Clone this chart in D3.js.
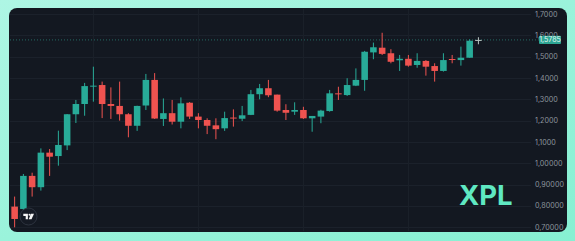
<!DOCTYPE html>
<html>
<head>
<meta charset="utf-8">
<script src="https://cdn.jsdelivr.net/npm/d3@7"></script>
<style>
  html, body { margin: 0; padding: 0; background: #9ef3dc; }
  svg { display: block; }
</style>
</head>
<body>
<svg width="575" height="241"></svg>
<script>
// candle data (one entry per candle, left to right)
var opens  = [0.797, 0.786, 0.941, 0.888, 1.050, 1.034, 1.084, 1.230, 1.278, 1.360,
              1.367, 1.278, 1.269, 1.230, 1.176, 1.271, 1.391, 1.208, 1.235, 1.195,
              1.284, 1.219, 1.203, 1.178, 1.164, 1.2145, 1.209, 1.227, 1.324, 1.352,
              1.322, 1.250, 1.242, 1.250, 1.211, 1.219, 1.245, 1.328, 1.320, 1.364,
              1.391, 1.520, 1.542, 1.516, 1.483, 1.490, 1.461, 1.480, 1.456, 1.433,
              1.489, 1.484, 1.495, 1.5748];
var highs  = [0.844, 0.950, 0.956, 1.070, 1.067, 1.153, 1.231, 1.297, 1.377, 1.453,
              1.383, 1.356, 1.383, 1.235, 1.270, 1.419, 1.423, 1.304, 1.297, 1.309,
              1.287, 1.235, 1.211, 1.211, 1.242, 1.253, 1.269, 1.344, 1.372, 1.391,
              1.322, 1.277, 1.286, 1.265, 1.222, 1.251, 1.344, 1.359, 1.399, 1.445,
              1.527, 1.566, 1.612, 1.535, 1.508, 1.508, 1.516, 1.484, 1.469, 1.516,
              1.508, 1.547, 1.581, 1.591];
var lows   = [0.700, 0.780, 0.844, 0.872, 0.941, 0.989, 1.062, 1.189, 1.223, 1.289,
              1.212, 1.208, 1.200, 1.122, 1.152, 1.250, 1.208, 1.175, 1.182, 1.164,
              1.208, 1.164, 1.137, 1.113, 1.152, 1.172, 1.198, 1.226, 1.300, 1.310,
              1.242, 1.203, 1.227, 1.208, 1.148, 1.188, 1.242, 1.297, 1.316, 1.362,
              1.340, 1.488, 1.508, 1.469, 1.433, 1.453, 1.448, 1.411, 1.383, 1.430,
              1.469, 1.458, 1.495, 1.558];
var closes = [0.739, 0.941, 0.888, 1.050, 1.031, 1.086, 1.230, 1.278, 1.362, 1.364,
              1.278, 1.269, 1.230, 1.176, 1.269, 1.391, 1.210, 1.235, 1.195, 1.281,
              1.219, 1.203, 1.176, 1.160, 1.212, 1.2115, 1.225, 1.324, 1.352, 1.319,
              1.247, 1.237, 1.250, 1.211, 1.222, 1.247, 1.328, 1.325, 1.367, 1.391,
              1.523, 1.544, 1.513, 1.476, 1.490, 1.458, 1.480, 1.453, 1.433, 1.484,
              1.4865, 1.495, 1.5748, 1.5785];

var yTicks      = [0.7, 0.8, 0.9, 1.0, 1.1, 1.2, 1.3, 1.4, 1.5, 1.6, 1.7];
var yTickLabels = ["0,70000", "0,80000", "0,90000", "1,00000", "1,1000", "1,2000",
                   "1,3000", "1,4000", "1,5000", "1,6000", "1,7000"];
var gridCandles = [9, 21, 33, 45];   // candles carrying the vertical grid lines
var lastPrice = 1.5785;
var lastPriceLabel = "1,5785";
var symbol = "XPL";

var upColor = "#28ab98", downColor = "#ef5350";

var svg = d3.select("svg"),
    width = +svg.attr("width"),
    height = +svg.attr("height");

// mint backdrop
var defs = svg.append("defs");
var grad = defs.append("linearGradient").attr("id", "bg")
    .attr("x1", "0").attr("y1", "0").attr("x2", "1").attr("y2", "1");
grad.append("stop").attr("offset", "0").attr("stop-color", "#aef6e4");
grad.append("stop").attr("offset", "1").attr("stop-color", "#86f0d2");
svg.append("rect").attr("width", width).attr("height", height).attr("fill", "url(#bg)");

// dark panel
svg.append("rect")
    .attr("x", 9).attr("y", 8)
    .attr("width", 558).attr("height", 224)
    .attr("rx", 8)
    .attr("fill", "#131821");

var index = d3.range(opens.length);

var x = d3.scaleBand()
    .domain(index)
    .range([11.35, 11.35 + 8.71 * index.length])
    .paddingInner(0.25);

var y = d3.scaleLinear()
    .domain([0.7, 1.7])
    .range([227.3, 14]);

var plotLeft = 10, plotRight = 531;

// grid (very faint, like the reference)
var grid = svg.append("g").attr("class", "grid");
grid.selectAll("line.h")
    .data(yTicks)
    .enter().append("line")
    .attr("class", "h")
    .attr("x1", plotLeft).attr("x2", plotRight)
    .attr("y1", function (d) { return Math.round(y(d)) + 0.5; })
    .attr("y2", function (d) { return Math.round(y(d)) + 0.5; })
    .attr("stroke", "#1b212b").attr("stroke-width", 1);

grid.selectAll("line.v")
    .data(gridCandles)
    .enter().append("line")
    .attr("class", "v")
    .attr("x1", function (d) { return Math.round(x(d) + x.bandwidth() / 2) + 0.5; })
    .attr("x2", function (d) { return Math.round(x(d) + x.bandwidth() / 2) + 0.5; })
    .attr("y1", 9).attr("y2", 231)
    .attr("stroke", "#1a2029").attr("stroke-width", 1);

// last price dotted line
svg.append("line")
    .attr("x1", plotLeft).attr("x2", 539)
    .attr("y1", y(lastPrice)).attr("y2", y(lastPrice))
    .attr("stroke", "#2a7d72").attr("stroke-width", 0.8)
    .attr("stroke-dasharray", "1,2");

// candles
function candleColor(i) {
    if (i === index.length - 1) return "#b9c6c2";   // live candle drawn light
    return closes[i] >= opens[i] ? upColor : downColor;
}

var candle = svg.append("g").attr("class", "candles")
    .selectAll("g")
    .data(index)
    .enter().append("g");

candle.append("line")
    .attr("x1", function (i) { return x(i) + x.bandwidth() / 2; })
    .attr("x2", function (i) { return x(i) + x.bandwidth() / 2; })
    .attr("y1", function (i) { return y(highs[i]); })
    .attr("y2", function (i) { return y(lows[i]); })
    .attr("stroke", candleColor)
    .attr("stroke-width", 1);

candle.append("rect")
    .attr("x", function (i) { return x(i); })
    .attr("width", x.bandwidth())
    .attr("y", function (i) { return y(Math.max(opens[i], closes[i])); })
    .attr("height", function (i) {
        return Math.max(1, Math.abs(y(opens[i]) - y(closes[i])));
    })
    .attr("fill", candleColor);

// price axis labels
svg.append("g").attr("class", "axis")
    .selectAll("text")
    .data(yTicks)
    .enter().append("text")
    .attr("x", 535)
    .attr("y", function (d) { return y(d); })
    .attr("dy", "0.35em")
    .attr("font-family", "Inter, 'Noto Sans', sans-serif")
    .attr("font-size", 7.2)
    .attr("fill", "#8c939d")
    .text(function (d, i) { return yTickLabels[i]; });

// last price tag (sits over the 1,6000 label, as in the reference)
svg.append("rect")
    .attr("x", 539).attr("y", y(lastPrice) - 4.2)
    .attr("width", 22).attr("height", 8.4)
    .attr("rx", 1)
    .attr("fill", "#2da593");
svg.append("text")
    .attr("x", 550).attr("y", y(lastPrice))
    .attr("dy", "0.35em")
    .attr("text-anchor", "middle")
    .attr("font-family", "Inter, 'Noto Sans', sans-serif")
    .attr("font-size", 7)
    .attr("fill", "#e6f7f2")
    .text(lastPriceLabel);

// symbol watermark
svg.append("text")
    .attr("x", 459).attr("y", 205)
    .attr("font-family", "Inter, 'Noto Sans', sans-serif")
    .attr("font-weight", 700)
    .attr("font-size", 27.5)
    .attr("fill", "#5fe8c2")
    .text(symbol);

// tradingview badge
var tv = svg.append("g").attr("transform", "translate(28.5,216.5)");
tv.append("circle").attr("r", 8.5)
    .attr("fill", "#151a24").attr("stroke", "#343a46").attr("stroke-width", 0.8);
tv.append("path")
    .attr("d", "M-5.2,-2.8H-0.6V2.8H-2.8V-0.6H-5.2Z")
    .attr("fill", "#f4f4f4");
tv.append("circle").attr("cx", 1).attr("cy", -1.8).attr("r", 1).attr("fill", "#f4f4f4");
tv.append("path")
    .attr("d", "M2.4,-2.8H5.5L3,2.8H0.2Z")
    .attr("fill", "#f4f4f4");
</script>
</body>
</html>
